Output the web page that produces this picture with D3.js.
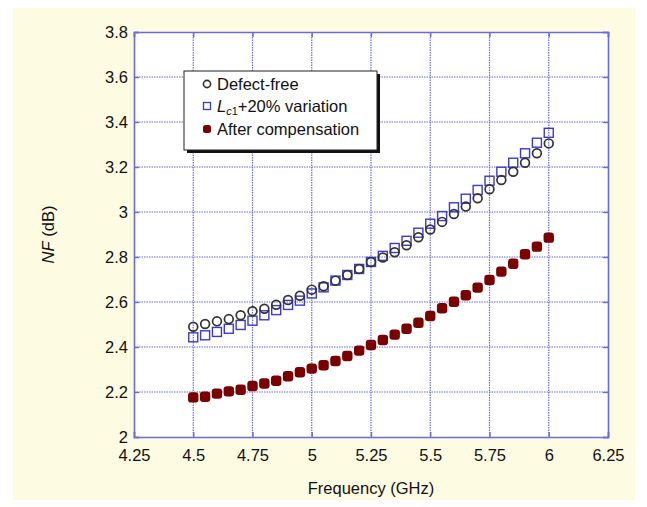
<!DOCTYPE html>
<html><head><meta charset="utf-8">
<script src="https://cdn.jsdelivr.net/npm/d3@7/dist/d3.min.js"></script>
<style>body{margin:0;background:#fff}svg{display:block}text{font-family:"Liberation Sans",Arial,sans-serif}</style>
</head><body><svg id="c" width="647" height="507"></svg>
<script>
const freq = [4.5,4.55,4.6,4.65,4.7,4.75,4.8,4.85,4.9,4.95,5.0,5.05,5.1,5.15,5.2,5.25,5.3,5.35,5.4,5.45,5.5,5.55,5.6,5.65,5.7,5.75,5.8,5.85,5.9,5.95,6.0];
const defectFree = [2.490,2.502,2.514,2.524,2.541,2.559,2.570,2.588,2.609,2.628,2.655,2.670,2.695,2.720,2.747,2.778,2.798,2.821,2.852,2.888,2.922,2.956,2.991,3.024,3.061,3.101,3.142,3.179,3.219,3.261,3.305];
const lc1Variation = [2.443,2.452,2.467,2.481,2.498,2.517,2.541,2.564,2.587,2.606,2.638,2.665,2.695,2.720,2.747,2.778,2.805,2.840,2.872,2.908,2.948,2.982,3.021,3.059,3.098,3.139,3.179,3.219,3.261,3.308,3.352];
const compensated = [2.176,2.179,2.193,2.203,2.210,2.227,2.238,2.250,2.270,2.288,2.304,2.319,2.338,2.360,2.384,2.409,2.431,2.455,2.481,2.508,2.538,2.572,2.601,2.630,2.664,2.698,2.735,2.770,2.812,2.846,2.886];
const xTicks = [4.25,4.5,4.75,5,5.25,5.5,5.75,6,6.25];
const yTicks = [2,2.2,2.4,2.6,2.8,3,3.2,3.4,3.6,3.8];
const legendLabels = ["Defect-free","Lc1+20% variation","After compensation"];

const FS = "16.5px";
const svg = d3.select("#c");
const blue = "#6b6be0";
svg.append("rect").attr("x",13).attr("y",8).attr("width",622).attr("height",492).attr("fill","#fdfbe2");

const L=134,R=608,T=32,B=437;
const x = d3.scaleLinear().domain([4.25,6.25]).range([L,R]);
const y = d3.scaleLinear().domain([2,3.8]).range([B,T]);

svg.append("rect").attr("x",L).attr("y",T).attr("width",R-L).attr("height",B-T).attr("fill","#fff");

// grid
const g = svg.append("g");
g.selectAll(".vg").data(xTicks.slice(1,-1)).join("line")
  .attr("x1",d=>x(d)).attr("x2",d=>x(d)).attr("y1",T).attr("y2",B)
  .attr("stroke",blue).attr("stroke-width",1.2).attr("stroke-dasharray","1.5,1");
g.selectAll(".hg").data(yTicks.slice(1,-1)).join("line")
  .attr("y1",d=>y(d)).attr("y2",d=>y(d)).attr("x1",L).attr("x2",R)
  .attr("stroke",blue).attr("stroke-width",1.2).attr("stroke-dasharray","1.5,1");

// axes
const fmt = d=>String(d);
const xAx = svg.append("g").attr("transform",`translate(0,${B})`)
  .call(d3.axisBottom(x).tickValues(xTicks).tickFormat(fmt).tickSize(-5).tickPadding(15));
const xAxT = svg.append("g").attr("transform",`translate(0,${T})`)
  .call(d3.axisTop(x).tickValues(xTicks).tickFormat("").tickSize(-5));
const yAx = svg.append("g").attr("transform",`translate(${L},0)`)
  .call(d3.axisLeft(y).tickValues(yTicks).tickFormat(fmt).tickSize(-5).tickPadding(6));
const yAxR = svg.append("g").attr("transform",`translate(${R},0)`)
  .call(d3.axisRight(y).tickValues(yTicks).tickFormat("").tickSize(-5));
[xAx,xAxT,yAx,yAxR].forEach(a=>{
  a.attr("font-size",null).attr("font-family",null);
  a.select(".domain").attr("stroke",blue).attr("stroke-width",1.6);
  a.selectAll(".tick line").attr("stroke",blue).attr("stroke-width",1.4);
  a.selectAll("text").attr("fill","#111").style("font-size",FS);
});
xAx.selectAll("text").attr("dy","0.55em");

// labels
svg.append("text").attr("x",(L+R)/2).attr("y",494).attr("text-anchor","middle")
  .style("font-size",FS).attr("fill","#111").text("Frequency (GHz)");
const yl = svg.append("text").attr("transform",`translate(54,${(T+B)/2}) rotate(-90)`).attr("text-anchor","middle")
  .style("font-size",FS).attr("fill","#111");
yl.append("tspan").attr("font-style","italic").text("NF");
yl.append("tspan").text(" (dB)");

// data
const s = 9;
svg.append("g").selectAll("rect").data(freq).join("rect")
  .attr("x",(d)=>x(d)-s/2).attr("y",(d,i)=>y(lc1Variation[i])-s/2).attr("width",s).attr("height",s)
  .attr("fill","none").attr("stroke","#3a3ad0").attr("stroke-width",1.4);
svg.append("g").selectAll("circle").data(freq).join("circle")
  .attr("cx",d=>x(d)).attr("cy",(d,i)=>y(defectFree[i])).attr("r",4.4)
  .attr("fill","none").attr("stroke","#333").attr("stroke-width",1.7);
svg.append("g").selectAll("rect").data(freq).join("rect")
  .attr("x",d=>x(d)-5.2).attr("y",(d,i)=>y(compensated[i])-5.2).attr("width",10.4).attr("height",10.4)
  .attr("rx",3.2).attr("fill","#7a0000");

// legend
const lg = svg.append("g");
const bx=184, by=71, bw=193, bh=79;
lg.append("rect").attr("x",bx+3).attr("y",by+3).attr("width",bw).attr("height",bh).attr("fill","#111");
lg.append("rect").attr("x",bx).attr("y",by).attr("width",bw).attr("height",bh).attr("fill","#fff").attr("stroke","#222").attr("stroke-width",1);
const ly = [84,106,129];
lg.append("circle").attr("cx",207).attr("cy",ly[0]).attr("r",3.6).attr("fill","none").attr("stroke","#333").attr("stroke-width",1.6);
lg.append("rect").attr("x",203.5).attr("y",ly[1]-3.5).attr("width",7).attr("height",7).attr("fill","none").attr("stroke","#3a3ad0").attr("stroke-width",1.3);
lg.append("rect").attr("x",203).attr("y",ly[2]-4).attr("width",8).attr("height",8).attr("rx",2.5).attr("fill","#7a0000");
const tx = 217;
lg.append("text").attr("x",tx).attr("y",ly[0]+6).style("font-size",FS).attr("fill","#111").text(legendLabels[0]);
const t2 = lg.append("text").attr("x",tx).attr("y",ly[1]+6).style("font-size",FS).attr("fill","#111");
t2.append("tspan").attr("font-style","italic").text("L");
t2.append("tspan").attr("font-style","italic").attr("dy",3).style("font-size","11px").text("c");
t2.append("tspan").attr("dy",0).style("font-size","11px").text("1");
t2.append("tspan").attr("dy",-3).text("+20% variation");
lg.append("text").attr("x",tx).attr("y",ly[2]+6).style("font-size",FS).attr("fill","#111").text(legendLabels[2]);
</script></body></html>
